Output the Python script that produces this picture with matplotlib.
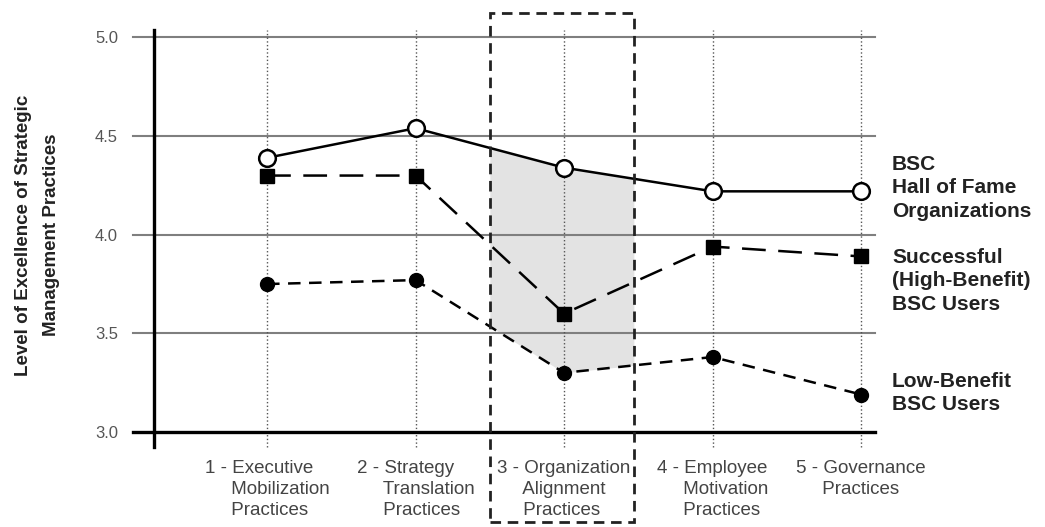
import numpy as np
import matplotlib
matplotlib.use('Agg')
import matplotlib.pyplot as plt
from matplotlib.patches import Rectangle

plt.rcParams['font.family'] = ['Liberation Sans', 'DejaVu Sans']

# Practice areas (x axis)
categories = ['1 - Executive\n     Mobilization\n     Practices',
              '2 - Strategy\n     Translation\n     Practices',
              '3 - Organization\n     Alignment\n     Practices',
              '4 - Employee\n     Motivation\n     Practices',
              '5 - Governance\n     Practices']
x_pos = [1, 2, 3, 4, 5]

# Series values
hall_of_fame = [4.39, 4.54, 4.34, 4.22, 4.22]
high_benefit = [4.30, 4.30, 3.60, 3.94, 3.89]
low_benefit = [3.75, 3.77, 3.30, 3.38, 3.19]

y_ticks = [3.0, 3.5, 4.0, 4.5, 5.0]
y_tick_labels = ['3.0', '3.5', '4.0', '4.5', '5.0']

# highlighted column (organization alignment)
box_left, box_right = 2.50, 3.47

fig = plt.figure(figsize=(10.45, 5.27), dpi=100)
ax = fig.add_axes([0.1474, 0.1803, 0.6900, 0.7628])
ax.set_xlim(0.239, 5.094)
ax.set_ylim(3.0, 5.038)

for s in ax.spines.values():
    s.set_visible(False)

grid_col = '#7f7f7f'
# horizontal gridlines incl. their little stub to the left of the axis
for yv in y_ticks[1:]:
    ax.plot([-0.029, 1], [yv, yv], transform=ax.get_yaxis_transform(),
            color=grid_col, lw=1.5, clip_on=False, zorder=1)

# vertical dotted guides
for xv in x_pos:
    ax.plot([xv, xv], [-0.037, 1], transform=ax.get_xaxis_transform(),
            color='#555555', lw=1.0, ls=':', clip_on=False, zorder=1)

# axis lines (cross at the origin)
ax.plot([0, 0], [-0.037, 1], transform=ax.transAxes, color='black', lw=2.4,
        clip_on=False, zorder=6)
ax.plot([-0.029, 1], [0, 0], transform=ax.transAxes, color='black', lw=2.4,
        clip_on=False, zorder=6)

# shaded gap between hall of fame and low-benefit within the box
xs = np.linspace(box_left, box_right, 60)
ax.fill_between(xs, np.interp(xs, x_pos, low_benefit), np.interp(xs, x_pos, hall_of_fame),
                color='#e3e3e3', lw=0, zorder=0.5)

# dashed box around category 3
rect = Rectangle((box_left, -0.224), box_right - box_left, 1.266,
                 transform=ax.get_xaxis_transform(), fill=False, edgecolor='#222222',
                 lw=2.0, ls=(0, (3.8, 2.4)), clip_on=False, zorder=7)
ax.add_patch(rect)

# the three series
ax.plot(x_pos, low_benefit, color='black', lw=1.8, ls=(0, (5.0, 3.4)),
        marker='o', markersize=10, markerfacecolor='black', markeredgecolor='black', zorder=3)
ax.plot(x_pos, high_benefit, color='black', lw=1.8, ls=(0, (9.5, 5.0)),
        marker='s', markersize=9.5, markerfacecolor='black', markeredgecolor='black', zorder=4)
ax.plot(x_pos, hall_of_fame, color='black', lw=1.8, ls='-',
        marker='o', markersize=12, markerfacecolor='white', markeredgecolor='black',
        markeredgewidth=1.8, zorder=5)

# ticks
ax.set_yticks(y_ticks)
ax.set_yticklabels(y_tick_labels, fontsize=12, color='#555555')
ax.tick_params(axis='y', length=0, pad=26)
ax.set_xticks(x_pos)
ax.set_xticklabels(categories, fontsize=13.5, color='#444444', linespacing=1.3)
for lab in ax.get_xticklabels():
    lab.set_multialignment('left')
ax.tick_params(axis='x', length=0, pad=20)

# y axis title
fig.text(0.0359, 0.554, 'Level of Excellence of Strategic\nManagement Practices',
         rotation=90, ha='center', va='center', multialignment='center',
         fontsize=13.5, fontweight='bold', color='#222222', linespacing=1.85)

# series labels on the right
label_kw = dict(ha='left', va='center', fontsize=15, fontweight='bold',
                color='#222222', linespacing=1.27)
fig.text(0.8536, 0.6433, 'BSC\nHall of Fame\nOrganizations', **label_kw)
fig.text(0.8536, 0.4668, 'Successful\n(High-Benefit)\nBSC Users', **label_kw)
fig.text(0.8536, 0.2537, 'Low-Benefit\nBSC Users', **label_kw)

fig.savefig('out.png', dpi=100)
